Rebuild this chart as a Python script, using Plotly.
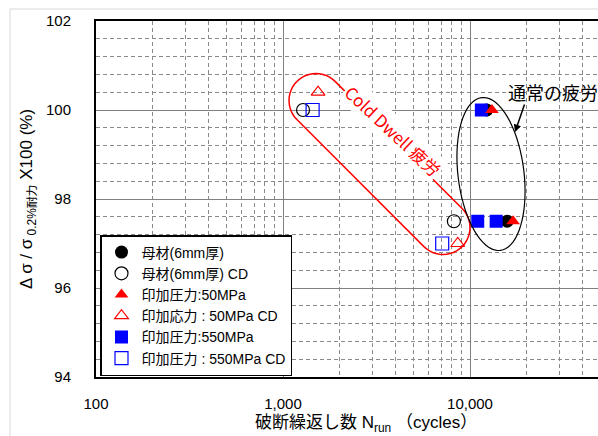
import math
import plotly.graph_objects as go

# ---------------- data ----------------
base_x = [12300, 15800]
base_y = [100.0, 97.5]
base_cd_x = [1280, 8200]
base_cd_y = [100.0, 97.5]
p50_x = [13100, 17000]
p50_y = [100.0, 97.5]
p50_cd_x = [1540, 8600]
p50_cd_y = [100.4, 97.0]
p550_x = [11500, 11000, 13800]
p550_y = [100.0, 97.5, 97.5]
p550_cd_x = [1440, 7100]
p550_cd_y = [100.0, 97.0]

names = ["母材(6mm厚)", "母材(6mm厚) CD", "印加圧力:50MPa",
         "印加応力 : 50MPa CD", "印加圧力:550MPa", "印加圧力 : 550MPa CD"]
x_tickvals = [100, 1000, 10000]
x_ticktext = ["100", "1,000", "10,000"]
y_tickvals = [94, 96, 98, 100, 102]

FONT = "Liberation Sans, Arial, 'Noto Sans CJK JP', sans-serif"

W, H = 598, 436
L, R, T, B = 96, 0, 21, 59
PW, PH = W - L - R, H - T - B
DEC = 187.0  # px per decade

def px(xp, yp):
    return ((xp - L) / PW, (H - B - yp) / PH)

fig = go.Figure()

# z-order: circles first, then squares, then triangles
fig.add_trace(go.Scatter(x=base_x, y=base_y, mode="markers", name=names[0], legendrank=1,
                         marker=dict(symbol="circle", size=13, color="black")))
fig.add_trace(go.Scatter(x=base_cd_x, y=base_cd_y, mode="markers", name=names[1], legendrank=2,
                         marker=dict(symbol="circle-open", size=13, color="black", line=dict(width=1.2))))
fig.add_trace(go.Scatter(x=p550_x, y=p550_y, mode="markers", name=names[4], legendrank=5,
                         marker=dict(symbol="square", size=13, color="#0000ff")))
fig.add_trace(go.Scatter(x=p550_cd_x, y=p550_cd_y, mode="markers", name=names[5], legendrank=6,
                         marker=dict(symbol="square-open", size=13, color="#0000ff", line=dict(width=1.2))))
fig.add_trace(go.Scatter(x=p50_x, y=p50_y, mode="markers", name=names[2], legendrank=3,
                         marker=dict(symbol="triangle-up", size=12, color="#ff0000")))
fig.add_trace(go.Scatter(x=p50_cd_x, y=p50_cd_y, mode="markers", name=names[3], legendrank=4,
                         marker=dict(symbol="triangle-up-open", size=12, color="#ff0000", line=dict(width=1.2))))

xmax = 2 + PW / DEC

fig.update_layout(
    width=W, height=H,
    margin=dict(l=L, r=R, t=T, b=B, pad=0),
    paper_bgcolor="white", plot_bgcolor="white",
    font=dict(family=FONT, color="black", size=15),
    showlegend=True,
    legend=dict(x=px(100, 0)[0], y=px(0, 235)[1], xanchor="left", yanchor="top",
                bgcolor="white", bordercolor="black", borderwidth=1.5,
                font=dict(size=14, family=FONT), itemwidth=30, traceorder="normal"),
    xaxis=dict(type="log", range=[2, xmax], tickvals=x_tickvals, ticktext=x_ticktext,
               showgrid=True, gridcolor="#808080", gridwidth=1,
               minor=dict(showgrid=True, dtick="D1", gridcolor="#8a8a8a", griddash="4px,3px", gridwidth=1),
               showline=True, linecolor="black", linewidth=2, mirror=True,
               ticks="", ticklabelstandoff=12, tickfont=dict(size=15), zeroline=False),
    yaxis=dict(range=[94, 102], tickvals=y_tickvals,
               showgrid=True, gridcolor="#808080", gridwidth=1,
               minor=dict(showgrid=True, tick0=94, dtick=0.4, gridcolor="#8a8a8a", griddash="4px,3px", gridwidth=1),
               showline=True, linecolor="black", linewidth=2, mirror=False,
               ticks="", ticklabelstandoff=20, tickfont=dict(size=15), zeroline=False),
)

# axis titles
fig.add_annotation(text="Δ σ / σ<sub> 0.2%耐力</sub> X100 (%)", xref="paper", yref="paper",
                   x=px(28, 0)[0], y=px(0, 199)[1], textangle=-90, showarrow=False,
                   xanchor="center", yanchor="middle", font=dict(size=17))
fig.add_annotation(text="破断繰返し数 N<sub>run</sub> （cycles）", xref="paper", yref="paper",
                   x=px(366, 0)[0], y=px(0, 424)[1], showarrow=False,
                   xanchor="center", yanchor="middle", font=dict(size=17))

# outer chart frame (light gray)
fx0, fy0 = px(10, 9)
_, fy1 = px(0, 436)
fig.add_shape(type="line", xref="paper", yref="paper", x0=fx0, y0=fy0, x1=1.05, y1=fy0,
              line=dict(color="#d9d9d9", width=1))
fig.add_shape(type="line", xref="paper", yref="paper", x0=fx0, y0=fy0, x1=fx0, y1=fy1,
              line=dict(color="#d9d9d9", width=1))

# Cold Dwell capsule
A = (316.0, 100.5)
Bc = (443.0, 227.5)
r = 27.0
dx, dy = Bc[0] - A[0], Bc[1] - A[1]
ln = math.hypot(dx, dy)
u = (dx / ln, dy / ln)
n = (u[1], -u[0])
pts = []
N = 24
for i in range(N + 1):
    f = math.pi * i / N
    pts.append((A[0] + r * (math.cos(f) * n[0] - math.sin(f) * u[0]),
                A[1] + r * (math.cos(f) * n[1] - math.sin(f) * u[1])))
for i in range(N + 1):
    f = math.pi * i / N
    pts.append((Bc[0] + r * (-math.cos(f) * n[0] + math.sin(f) * u[0]),
                Bc[1] + r * (-math.cos(f) * n[1] + math.sin(f) * u[1])))
path = "M " + " L ".join("%.5f,%.5f" % px(*p) for p in pts) + " Z"
fig.add_shape(type="path", xref="paper", yref="paper", path=path,
              line=dict(color="#ff0000", width=1.5), fillcolor="rgba(0,0,0,0)")

# normal fatigue ellipse
C = (491.0, 174.0)
a_, b_ = 77.0, 33.0
al = math.radians(7)
d = (math.sin(al), math.cos(al))
e = (math.cos(al), -math.sin(al))
ep = []
for i in range(73):
    t = 2 * math.pi * i / 72
    ep.append((C[0] + a_ * math.cos(t) * d[0] + b_ * math.sin(t) * e[0],
               C[1] + a_ * math.cos(t) * d[1] + b_ * math.sin(t) * e[1]))
path2 = "M " + " L ".join("%.5f,%.5f" % px(*p) for p in ep) + " Z"
fig.add_shape(type="path", xref="paper", yref="paper", path=path2,
              line=dict(color="black", width=1.2), fillcolor="rgba(0,0,0,0)")

# labels (rotated annotation is anchored ~46px lower than requested; compensate)
cx, cy = px(393, 77)
fig.add_annotation(text="Cold Dwell 疲労", xref="paper", yref="paper", x=cx, y=cy,
                   textangle=43, showarrow=False, bgcolor="white",
                   font=dict(size=17, color="#ff0000", family="'Noto Sans CJK JP', sans-serif"))
tx, ty = px(553, 92)
fig.add_annotation(text="通常の疲労", xref="paper", yref="paper", x=tx, y=ty,
                   showarrow=False, xanchor="center", yanchor="middle",
                   font=dict(size=18, color="black", family="'Noto Sans CJK JP', sans-serif"))
ax_, ay_ = px(515, 132)
fig.add_annotation(text="", xref="paper", yref="paper", x=ax_, y=ay_, ax=10, ay=-29,
                   showarrow=True, arrowhead=2, arrowsize=1, arrowwidth=1.5, arrowcolor="black")

fig.write_html("out.html")
